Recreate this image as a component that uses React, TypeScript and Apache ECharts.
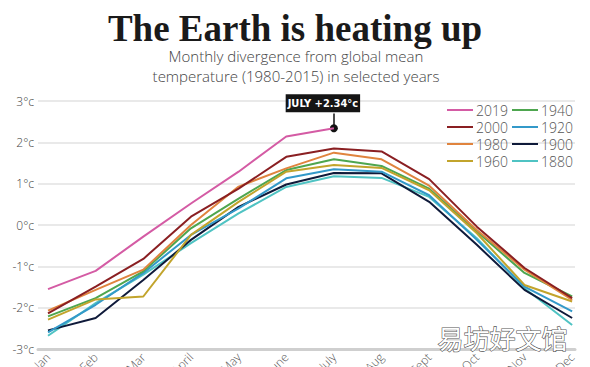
import React, { useEffect, useRef } from "react";
import * as echarts from "echarts";

const months = ["Jan", "Feb", "Mar", "April", "May", "June", "July", "Aug", "Sept", "Oct", "Nov", "Dec"];
const yTicks = [-3, -2, -1, 0, 1, 2, 3];
const years = ["2019", "2000", "1980", "1960", "1940", "1920", "1900", "1880"];
const colors = ["#d45ba4", "#8a1f22", "#e0843e", "#c2a42c", "#4ea64f", "#3399c9", "#0f1a3a", "#4fc3c3"];

const y2019 = [-1.55, -1.11, -0.28, 0.52, 1.29, 2.14, 2.34];
const y2000 = [-2.14, -1.49, -0.82, 0.2, 0.88, 1.65, 1.85, 1.78, 1.11, -0.04, -1.04, -1.77];
const y1980 = [-2.07, -1.57, -1.08, 0.0, 0.93, 1.37, 1.75, 1.59, 0.95, -0.12, -1.08, -1.81];
const y1960 = [-2.29, -1.8, -1.73, -0.24, 0.56, 1.29, 1.45, 1.38, 0.84, -0.2, -1.45, -1.85];
const y1940 = [-2.21, -1.77, -1.12, -0.08, 0.64, 1.33, 1.59, 1.43, 0.88, -0.16, -1.16, -1.73];
const y1920 = [-2.6, -1.93, -1.16, -0.24, 0.4, 1.13, 1.35, 1.29, 0.72, -0.36, -1.49, -2.09];
const y1900 = [-2.55, -2.25, -1.33, -0.36, 0.44, 0.98, 1.26, 1.25, 0.56, -0.48, -1.57, -2.25];
const y1880 = [-2.68, -1.89, -1.2, -0.44, 0.28, 0.92, 1.18, 1.14, 0.68, -0.32, -1.53, -2.42];

const seriesValues = [y2019, y2000, y1980, y1960, y1940, y1920, y1900, y1880];

const annotationMonth = 6;
const annotationTop = 2.7;

const LIGHT = "'Open Sans', 'Noto Sans', sans-serif";

export default function App() {
  const ref = useRef<HTMLDivElement>(null);
  useEffect(() => {
    if (!ref.current) return;
    const chart = echarts.init(ref.current, null, { renderer: "svg" });
    const series: any[] = years.map((name, si) => {
      const s: any = {
        name,
        type: "line",
        data: seriesValues[si].map((v, i) => [i, v]),
        showSymbol: false,
        symbol: "none",
        z: 10 - si,
        lineStyle: { width: 2, color: colors[si] },
        itemStyle: { color: colors[si] },
      };
      if (si === 0) {
        const v = y2019[annotationMonth];
        s.z = 20;
        s.markLine = {
          silent: true,
          symbol: "none",
          label: { show: false },
          lineStyle: { color: "#111", width: 1.5, type: "solid" },
          data: [[{ coord: [annotationMonth, v] }, { coord: [annotationMonth, annotationTop] }]],
        };
        s.markPoint = {
          silent: true,
          data: [
            {
              coord: [annotationMonth, v],
              symbol: "circle",
              symbolSize: 8,
              itemStyle: { color: "#111" },
              label: {
                show: true,
                position: "top",
                distance: 12,
                offset: [-11, 0],
                formatter: `JULY +${v.toFixed(2)}°c`,
                backgroundColor: "#151515",
                color: "#fff",
                padding: [4, 2, 3, 2],
                fontSize: 11,
                fontWeight: "bold",
                fontFamily: "'DejaVu Sans Condensed', 'Liberation Sans Narrow', sans-serif",
              },
            },
          ],
        };
      }
      return s;
    });

    const legendCommon = {
      orient: "vertical",
      icon: "rect",
      itemWidth: 26,
      itemHeight: 2,
      itemGap: 1,
      textStyle: { fontFamily: LIGHT, fontWeight: 300, fontSize: 14, color: "#555", lineHeight: 16, padding: [0, 0, 0, -2] },
      padding: 0,
      selectedMode: false,
    };

    chart.setOption({
      animation: false,
      backgroundColor: "#fff",
      title: {
        text: "The Earth is heating up",
        left: "center",
        top: 11,
        padding: 0,
        textStyle: {
          fontFamily: "'Liberation Serif', 'DejaVu Serif', serif",
          fontWeight: "bold",
          fontSize: 37,
          lineHeight: 34,
          color: "#1a1a1a",
        },
      },
      legend: [
        { ...legendCommon, left: 447, top: 102, data: years.slice(0, 4) },
        { ...legendCommon, left: 512, top: 102, data: years.slice(4) },
      ],
      grid: { left: 38, right: 15, top: 101, bottom: 18, containLabel: false, outerBoundsMode: "none" },
      xAxis: {
        type: "value",
        min: -0.21,
        max: 11.06,
        splitLine: { show: false },
        axisTick: { show: false },
        axisLine: { show: true, onZero: false, lineStyle: { color: "#cfcfcf", width: 3 } },
        axisLabel: {
          customValues: months.map((_, i) => i),
          formatter: (v: number) => months[Math.round(v)] ?? "",
          rotate: 45,
          margin: 6,
          fontFamily: LIGHT,
          fontWeight: 300,
          fontSize: 12,
          color: "#555",
        },
      },
      yAxis: {
        type: "value",
        min: yTicks[0],
        max: yTicks[yTicks.length - 1],
        interval: 1,
        axisLine: { show: false },
        axisTick: { show: false },
        splitLine: { lineStyle: { color: "#e2e2e2", width: 1.5 } },
        axisLabel: {
          formatter: (v: number) => `${v}°c`,
          margin: 4,
          fontFamily: LIGHT,
          fontWeight: 300,
          fontSize: 12,
          color: "#444",
        },
      },
      graphic: [
        {
          type: "text",
          x: 296,
          y: 46,
          style: {
            text: "Monthly divergence from global mean\ntemperature (1980-2015) in selected years",
            textAlign: "center",
            fontFamily: LIGHT,
            fontWeight: 300,
            fontSize: 15,
            lineHeight: 20,
            fill: "#444",
          },
        },
        {
          type: "text",
          right: 22,
          bottom: 16,
          z: 100,
          style: {
            text: "易坊好文馆",
            fontFamily: "'Noto Sans CJK SC', sans-serif",
            fontSize: 26,
            fill: "#fff",
            stroke: "#555",
            lineWidth: 1.2,
          },
        },
      ],
      series,
    });
    return () => chart.dispose();
  }, []);
  return <div ref={ref} style={{ position: "fixed", left: 0, top: 0, width: 590, height: 367 }} />;
}
